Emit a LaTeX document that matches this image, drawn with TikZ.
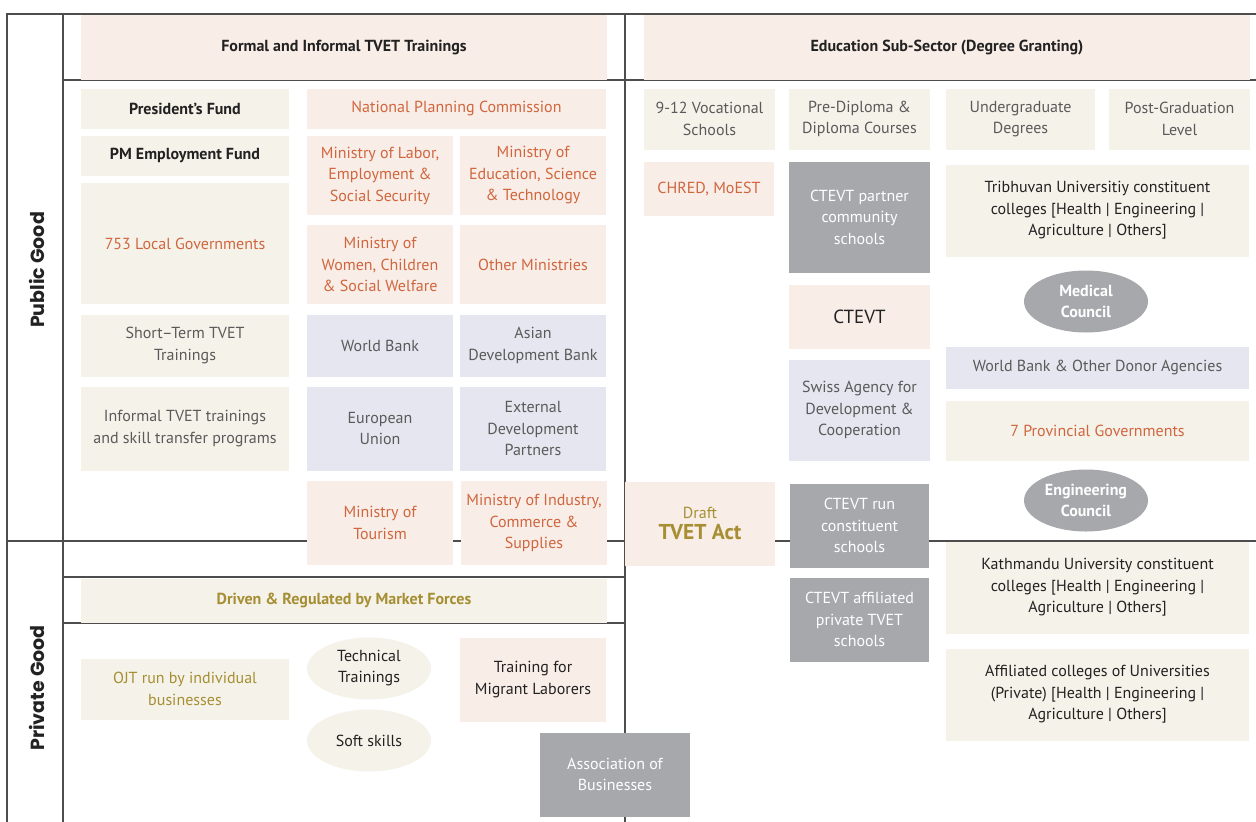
\documentclass[tikz,border=0pt]{standalone}
\usepackage{fontspec}
\setmainfont{PT Sans}
\newfontfamily\sidefont{Poppins}
\usetikzlibrary{shapes.geometric}

\definecolor{pinkfill}{HTML}{F9EDE7}
\definecolor{beigefill}{HTML}{F5F2EA}
\definecolor{lavfill}{HTML}{E6E6F0}
\definecolor{greyfill}{HTML}{A7A8AC}
\definecolor{orangetxt}{HTML}{D0663E}
\definecolor{olivetxt}{HTML}{A68F33}
\definecolor{greytxt}{HTML}{5A5A5A}
\definecolor{darktxt}{HTML}{222222}
\definecolor{rulecol}{HTML}{4D4D4D}

\tikzset{
  cell/.style={rectangle, inner sep=0pt, align=center, text=darktxt, font=\fontsize{16}{21.5}\selectfont},
  wh/.style 2 args={minimum width=#1pt, minimum height=#2pt},
  pinkcell/.style={cell, fill=pinkfill},
  beigecell/.style={cell, fill=beigefill},
  lavcell/.style={cell, fill=lavfill, text=greytxt},
  greycell/.style={cell, fill=greyfill, text=white},
  oval/.style={ellipse, inner sep=0pt, align=center, minimum width=124pt, minimum height=62pt, font=\fontsize{16}{21}\selectfont},
  hd/.style={font=\fontsize{16}{21.5}\selectfont\bfseries},
  orng/.style={text=orangetxt},
  olv/.style={text=olivetxt},
  gry/.style={text=greytxt},
  sidelabel/.style={rotate=90, text=darktxt, font=\sidefont\fontsize{19}{22}\selectfont\bfseries},
  frame/.style={draw=rulecol, line width=1.2pt}
}

\begin{document}
\begin{tikzpicture}[x=1pt, y=-1pt]
    \useasboundingbox (0,0) rectangle (1256,822);
    % grid lines
    \draw [frame] (7,822) -- (7,14) -- (1256,14);
    \draw [frame] (63,14) -- (63,822);
    \draw [frame] (625,14) -- (625,822);
    \draw [frame] (63,80) -- (1256,80);
    \draw [frame] (7,541) -- (1256,541);
    \draw [frame] (63,577) -- (625,577);
    \draw [frame] (63,623) -- (625,623);

    \node [sidelabel] (public) at (37,270) {Public Good};
    \node [sidelabel] (private) at (37,688) {Private Good};

    % headers
    \node [pinkcell, hd, wh={526}{65}] (formalhd) at (344,47.5) {Formal and Informal TVET Trainings};
    \node [pinkcell, hd, wh={606}{65}] (eduhd) at (947,47.5) {Education Sub-Sector (Degree Granting)};

    % public, TVET side
    \node [beigecell, hd, wh={208}{40}] (pfund) at (185,108.5) {President’s Fund};
    \node [beigecell, hd, wh={208}{40}] (pmfund) at (185,155.5) {PM Employment Fund};
    \node [beigecell, orng, wh={208}{121}] (localgov) at (185,243.5) {753 Local Governments};
    \node [beigecell, gry, wh={208}{62}] (shortterm) at (185,345.5) {Short–Term TVET\\Trainings};
    \node [beigecell, gry, wh={208}{84}] (informal) at (185,428.5) {Informal TVET trainings\\and skill transfer programs};
    \node [pinkcell, orng, wh={299}{40}] (npc) at (456.5,108.5) {National Planning Commission};
    \node [pinkcell, orng, wh={146}{79}] (molabor) at (380,175.5) {Ministry of Labor,\\Employment \&\\Social Security};
    \node [pinkcell, orng, wh={146}{79}] (moedu) at (533,175.5) {Ministry of\\Education, Science\\\& Technology};
    \node [pinkcell, orng, wh={146}{79}] (mowomen) at (380,264.5) {Ministry of\\Women, Children\\\& Social Welfare};
    \node [pinkcell, orng, wh={146}{79}] (othermin) at (533,264.5) {Other Ministries};
    \node [lavcell, wh={146}{62}] (wb) at (380,345.5) {World Bank};
    \node [lavcell, wh={146}{62}] (adb) at (533,345.5) {Asian\\Development Bank};
    \node [lavcell, wh={146}{84}] (eu) at (380,428.5) {European\\Union};
    \node [lavcell, wh={146}{84}] (edp) at (533,428.5) {External\\Development\\Partners};
    \node [pinkcell, orng, wh={146}{84}] (motourism) at (380,523) {Ministry of\\Tourism};
    \node [pinkcell, orng, wh={146}{84}] (moindustry) at (534,523) {Ministry of Industry,\\Commerce \&\\Supplies};
    \node [pinkcell, olv, wh={150}{84}] (tvetact) at (700,523.5) {Draft\\[-1pt]{\fontsize{21.5}{23}\selectfont\bfseries TVET Act}};

    % private, TVET side
    \node [beigecell, hd, olv, wh={526}{44}] (market) at (344,600.5) {Driven \& Regulated by Market Forces};
    \node [beigecell, olv, wh={208}{61}] (ojt) at (185,689) {OJT run by individual\\businesses};
    \node [oval, fill=beigefill, text=darktxt] (techtr) at (369,668.5) {Technical\\Trainings};
    \node [oval, fill=beigefill, text=darktxt] (softsk) at (369,740.5) {Soft skills};
    \node [pinkcell, wh={146}{84}] (migrant) at (533,679.5) {Training for\\Migrant Laborers};
    \node [greycell, wh={150}{84}] (assoc) at (615,774.5) {Association of\\Businesses};

    % degree granting side
    \node [beigecell, gry, wh={131}{61}] (voc) at (709.5,119) {9-12 Vocational\\Schools};
    \node [beigecell, gry, wh={141}{61}] (diploma) at (859.5,119) {Pre-Diploma \&\\Diploma Courses};
    \node [beigecell, gry, wh={149}{61}] (ugrad) at (1020.5,119) {Undergraduate\\Degrees};
    \node [beigecell, gry, wh={141}{61}] (pgrad) at (1179.5,119) {Post-Graduation\\Level};
    \node [pinkcell, orng, wh={130}{54}] (chred) at (709,188.5) {CHRED, MoEST};
    \node [greycell, wh={141}{111}] (ctevtpartner) at (859.5,217) {CTEVT partner\\community\\schools};
    \node [beigecell, wh={303}{92}] (tu) at (1097.5,210.5) {Tribhuvan Universitiy constituent\\colleges [Health | Engineering |\\Agriculture | Others]};
    \node [oval, fill=greyfill, text=white, hd] (medical) at (1086,301.5) {Medical\\Council};
    \node [pinkcell, wh={141}{64}, font=\fontsize{19}{21}\selectfont] (ctevt) at (859.5,316.5) {CTEVT};
    \node [lavcell, wh={141}{101}] (swiss) at (859.5,410) {Swiss Agency for\\Development \&\\Cooperation};
    \node [lavcell, wh={303}{42}] (wbdonor) at (1097.5,367.5) {World Bank \& Other Donor Agencies};
    \node [beigecell, orng, wh={303}{60}] (provgov) at (1097.5,430.5) {7 Provincial Governments};
    \node [oval, fill=greyfill, text=white, hd] (engcouncil) at (1086,500.5) {Engineering\\Council};
    \node [greycell, wh={139}{84}] (ctevtrun) at (859.5,525.5) {CTEVT run\\constituent\\schools};
    \node [greycell, wh={139}{84}] (ctevtaff) at (859.5,619.5) {CTEVT affiliated\\private TVET\\schools};
    \node [beigecell, wh={303}{92}] (ku) at (1097.5,587.5) {Kathmandu University constituent\\colleges [Health | Engineering |\\Agriculture | Others]};
    \node [beigecell, wh={303}{92}] (affcol) at (1097.5,694.5) {Affiliated colleges of Universities\\(Private) [Health | Engineering |\\Agriculture | Others]};
\end{tikzpicture}
\end{document}
